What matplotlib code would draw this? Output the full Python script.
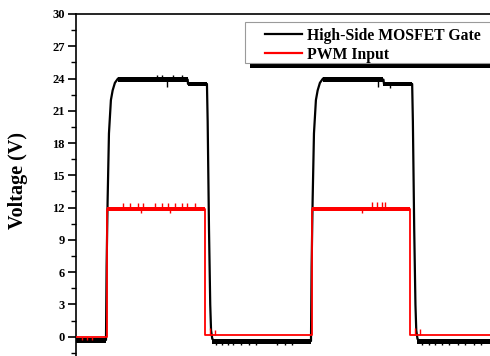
import numpy as np
import matplotlib as mpl
import matplotlib.pyplot as plt
from matplotlib.patches import Rectangle
from matplotlib.lines import Line2D

mpl.rcParams.update({
    "font.family": ["Liberation Serif", "DejaVu Serif"],
    "font.weight": "bold",
    "axes.linewidth": 1.2,
})

# time in us, voltage in V
gate_t = [0.0, 2.93, 2.99, 3.09, 3.22, 3.41, 3.58, 3.80, 4.10, 10.90, 10.93, 12.78,
          12.85, 12.98, 13.10, 13.18, 13.30, 13.50, 22.93, 22.99, 23.09, 23.22, 23.41,
          23.58, 23.80, 24.10, 30.00, 30.05, 32.80, 32.87, 33.00, 33.12, 33.20, 33.32,
          33.50, 42.0]
gate_v = [-0.3, -0.3, 6.5, 12.7, 18.9, 22.0, 22.9, 23.6, 24.0, 23.9, 23.5, 23.5,
          20.0, 10.0, 3.0, 0.6, -0.2, -0.4, -0.4, 6.5, 12.7, 18.9, 22.0,
          22.9, 23.6, 24.0, 23.9, 23.5, 23.5, 20.0, 10.0, 3.0, 0.6, -0.2,
          -0.4, -0.4]

pwm_t = [0.0, 3.02, 3.02, 12.59, 12.59, 23.02, 23.02, 32.59, 32.59, 42.0]
pwm_v = [0.0, 0.0, 11.9, 11.9, 0.2, 0.2, 11.9, 11.9, 0.2, 0.2]

# noise bands (t_start, t_end, v_low, v_high)
gate_bands = [(4.1, 10.9, 23.7, 24.1), (10.9, 12.8, 23.3, 23.7),
              (0.0, 2.93, -0.55, -0.1), (13.3, 22.93, -0.65, -0.2),
              (24.1, 30.0, 23.7, 24.1), (30.0, 32.8, 23.3, 23.7),
              (33.3, 42.0, -0.65, -0.2)]
pwm_bands = [(3.02, 12.59, 11.7, 12.1), (23.02, 32.59, 11.7, 12.1)]

# spikes (time, base, tip)
gate_spikes = [(7.90, 24.0, 24.3), (8.39, 24.0, 24.3), (8.88, 23.8, 23.2), (9.46, 24.0, 24.3),
               (10.34, 24.0, 24.3), (29.46, 23.8, 23.2), (30.63, 23.6, 23.1),
               (13.7, -0.4, -0.8), (14.2, -0.4, -0.8), (14.8, -0.4, -0.8), (15.3, -0.4, -0.8),
               (16.1, -0.4, -0.8), (16.9, -0.4, -0.8), (17.6, -0.4, -0.8), (19.6, -0.4, -0.8),
               (20.4, -0.4, -0.8), (21.1, -0.4, -0.8), (33.8, -0.4, -0.8), (34.4, -0.4, -0.8),
               (35.0, -0.4, -0.8), (35.7, -0.4, -0.8), (36.4, -0.4, -0.8), (37.3, -0.4, -0.8),
               (38.0, -0.4, -0.8), (38.8, -0.4, -0.8), (39.5, -0.4, -0.8)]
pwm_spikes = [(4.59, 11.9, 12.45), (5.27, 11.9, 12.4), (6.05, 11.9, 12.45), (6.54, 11.9, 12.45),
              (7.71, 11.9, 12.4), (8.39, 11.9, 12.45), (8.98, 11.9, 12.45), (9.66, 11.9, 12.4),
              (10.34, 11.9, 12.45), (10.83, 11.9, 12.45), (11.61, 11.9, 12.4),
              (6.3, 11.9, 11.5), (9.2, 11.9, 11.5), (28.88, 11.9, 12.5), (29.37, 11.9, 12.5),
              (29.85, 11.9, 12.5), (30.15, 11.9, 12.5), (27.9, 11.9, 11.5),
              (13.05, 0.2, 0.8), (13.6, 0.2, 0.6), (33.05, 0.2, 0.8), (33.6, 0.2, 0.7),
              (0.6, 0.0, -0.3), (1.1, 0.0, -0.3), (1.6, 0.0, -0.3)]

series_names = ["High-Side MOSFET Gate", "PWM Input"]
series_colors = ["black", "red"]

W, H = 490, 356
fig = plt.figure(figsize=(W / 100, H / 100), dpi=100)
# axes run past the bottom and right edges of the figure (cropped picture)
ax = fig.add_axes([0.155, -0.0365, 0.8786, 0.9972])
ax.patch.set_visible(False)

ax.plot(gate_t, gate_v, color="black", lw=1.6, zorder=2)
for t0, t1, lo, hi in gate_bands:
    ax.fill_between([t0, t1], [lo, lo], [hi, hi], color="black", lw=0, zorder=2)
ax.vlines([s[0] for s in gate_spikes], [s[1] for s in gate_spikes],
          [s[2] for s in gate_spikes], color="black", lw=1.0, zorder=2)

ax.plot(pwm_t, pwm_v, color="red", lw=1.3, zorder=3)
for t0, t1, lo, hi in pwm_bands:
    ax.fill_between([t0, t1], [lo, lo], [hi, hi], color="red", lw=0, zorder=3)
ax.vlines([s[0] for s in pwm_spikes], [s[1] for s in pwm_spikes],
          [s[2] for s in pwm_spikes], color="red", lw=1.0, zorder=3)

ax.set_xlim(0, 42)
ax.set_ylim(-3, 30)
ax.set_yticks(np.arange(0, 31, 3))
ax.set_yticks(np.arange(-1.5, 30, 1.5), minor=True)
ax.tick_params(axis="y", which="major", direction="out", length=6, width=1.2,
               labelsize=9, pad=2)
ax.tick_params(axis="y", which="minor", direction="out", length=3.5, width=1.0)
ax.set_xticks([])
ax.spines["right"].set_visible(False)
ax.set_ylabel("Voltage (V)", fontsize=14.5, fontweight="bold")
ax.yaxis.set_label_coords(-0.111, 0.53)


def fx(px):
    return px / W


def fy(py):
    return 1 - py / H


# Origin-style legend box with a black drop shadow, running off the right edge
fig.add_artist(Rectangle((fx(250), fy(68)), fx(300), fy(27) - fy(68), transform=fig.transFigure,
                         facecolor="black", edgecolor="none", zorder=9))
fig.add_artist(Rectangle((fx(245), fy(63)), fx(300), fy(22) - fy(63), transform=fig.transFigure,
                         facecolor="white", edgecolor="#9a9a9a", lw=0.8, zorder=10))
for name, col, py in zip(series_names, series_colors, [34, 53]):
    fig.add_artist(Line2D([fx(265), fx(302)], [fy(py), fy(py)], color=col, lw=1.6,
                          transform=fig.transFigure, zorder=11))
    fig.text(fx(307), fy(py), name, fontsize=11.3, fontweight="bold",
             va="center_baseline", ha="left", zorder=11)

fig.savefig("out.png", dpi=100)
